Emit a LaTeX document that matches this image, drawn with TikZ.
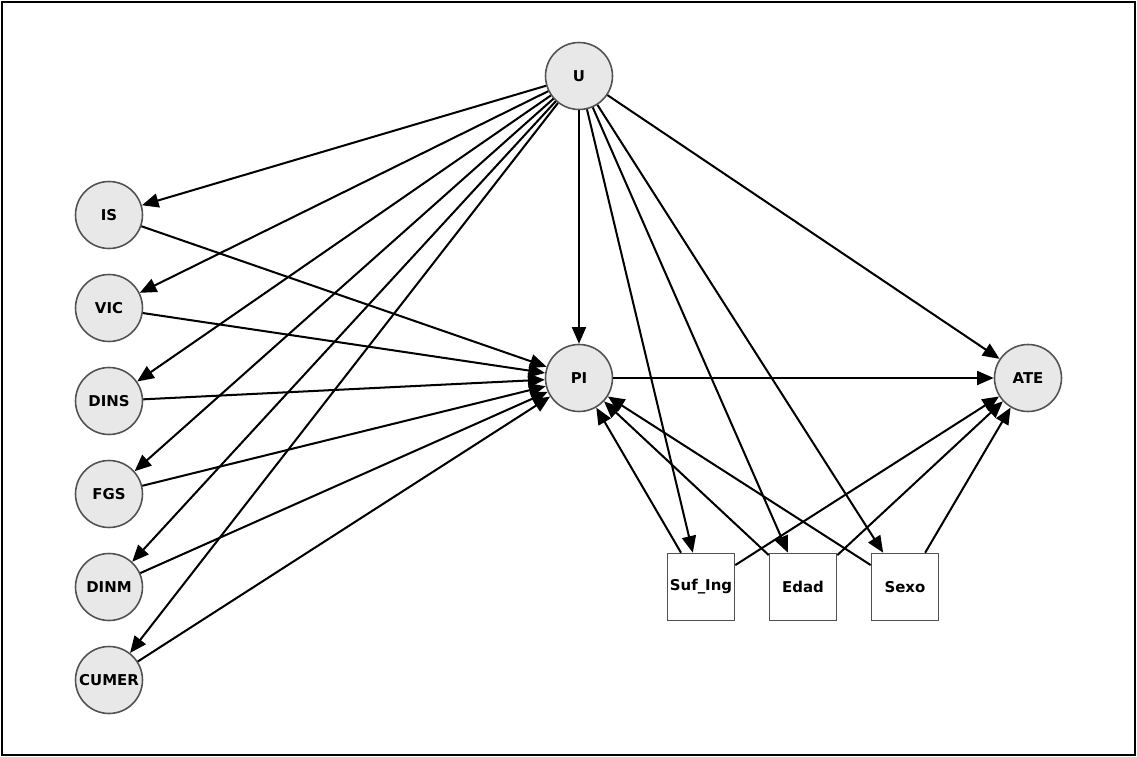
\documentclass[tikz,border=0pt]{standalone}
\usepackage{fontspec}
\setmainfont{DejaVu Sans}
\usetikzlibrary{arrows.meta}

\begin{document}
\begin{tikzpicture}[x=0.02cm, y=-0.02cm,
    every node/.style={font=\bfseries\fontsize{8.5}{10}\selectfont},
    var/.style={circle, draw=black!68, fill=black!9, line width=0.9pt, minimum size=1.34cm, inner sep=0pt},
    obs/.style={rectangle, draw=black!68, fill=white, line width=0.9pt, minimum size=1.34cm, inner sep=0pt},
    edge/.style={-{Triangle[length=9.5pt, width=8pt]}, line width=1.15pt}]
    \useasboundingbox (0, 0) rectangle (1137, 757);
    \draw[line width=1.2pt] (2, 2) rectangle (1135, 755);

    \node[var] (U) at (579, 76) {U};
    \node[var] (PI) at (579, 378) {PI};
    \node[var] (ATE) at (1028, 378) {ATE};

    \foreach \name [count=\i from 0] in {IS, VIC, DINS, FGS, DINM, CUMER}
        \node[var] (\name) at (109, 215 + 93*\i) {\name};

    \node[obs] (suf) at (701, 587) {Suf\_Ing};
    \node[obs] (edad) at (803, 587) {Edad};
    \node[obs] (sexo) at (905, 587) {Sexo};

    \foreach \t in {IS, VIC, DINS, FGS, DINM, CUMER, PI, suf, edad, sexo, ATE}
        \draw[edge] (U) -- (\t);
    \foreach \s in {IS, VIC, DINS, FGS, DINM, CUMER}
        \draw[edge] (\s) -- (PI);
    \draw[edge] (PI) -- (ATE);
    \foreach \s in {suf, edad, sexo} {
        \draw[edge] (\s) -- (PI);
        \draw[edge] (\s) -- (ATE);
    }
\end{tikzpicture}
\end{document}
